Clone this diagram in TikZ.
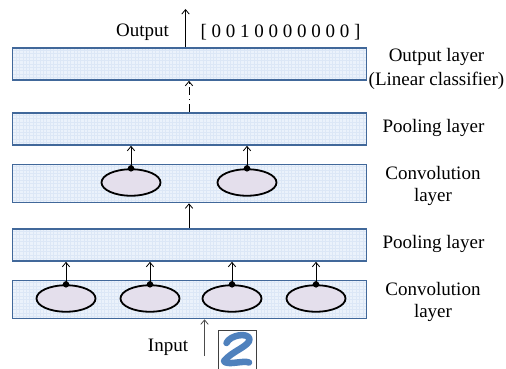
\documentclass[tikz,border=0pt]{standalone}
\usepackage{fontspec}
\setmainfont{Liberation Serif}
\usetikzlibrary{arrows.meta,shapes.geometric}
\definecolor{laybord}{HTML}{41689A}
\definecolor{layfill}{HTML}{EBF2FB}
\definecolor{laygrid}{HTML}{DCE7F6}
\definecolor{ellfill}{HTML}{E4DFEC}
\definecolor{digit}{HTML}{4F81BD}
\tikzset{
  layerbox/.style={draw=laybord,line width=1.8pt,fill=layfill,rectangle,inner sep=0pt,anchor=north west,minimum width=354pt,
    path picture={\draw[laygrid,line width=0.5pt,step=3.4pt] (path picture bounding box.south west) grid (path picture bounding box.north east);}},
  unit/.style={draw=black,line width=1.8pt,fill=ellfill,ellipse,inner sep=0pt,minimum width=59pt,minimum height=26.5pt},
  conn/.style={draw=black,line width=0.85pt,-{Straight Barb[length=4.5pt,width=7.5pt,line width=0.8pt]}},
  dotmark/.style={circle,fill=black,inner sep=0pt,minimum size=6.5pt},
  lab/.style={font=\fontsize{19pt}{24pt}\selectfont,align=center,inner sep=0pt},
}
\begin{document}
\begin{tikzpicture}[x=1pt,y=-1pt]
\useasboundingbox (0,0) rectangle (506,369);
\fill[white] (0,0) rectangle (506,369);
\node[layerbox,minimum height=32pt] (out) at (11.5,47) {};
\node[layerbox,minimum height=32pt] (pool2) at (11.5,112) {};
\node[layerbox,minimum height=38pt] (conv2) at (11.5,163.5) {};
\node[layerbox,minimum height=32pt] (pool1) at (11.5,228) {};
\node[layerbox,minimum height=38pt] (conv1) at (11.5,279.5) {};
\node[unit] (c2a) at (131,182.5) {};
\node[unit] (c2b) at (247,182.5) {};
\node[unit] (c1a) at (66,298.5) {};
\node[unit] (c1b) at (150,298.5) {};
\node[unit] (c1c) at (232,298.5) {};
\node[unit] (c1d) at (316,298.5) {};
\foreach \u in {c2a,c2b,c1a,c1b,c1c,c1d}{
  \node[dotmark] (d\u) at (\u.north) {};
}
\draw[conn] (c2a.north) -- (c2a.north |- pool2.south);
\draw[conn] (c2b.north) -- (c2b.north |- pool2.south);
\draw[conn] (c1a.north) -- (c1a.north |- pool1.south);
\draw[conn] (c1b.north) -- (c1b.north |- pool1.south);
\draw[conn] (c1c.north) -- (c1c.north |- pool1.south);
\draw[conn] (c1d.north) -- (c1d.north |- pool1.south);
\coordinate (p1top) at (189,228);
\draw[conn] (p1top) -- (p1top |- conv2.south);
\coordinate (p2top) at (189,112);
\draw[conn,dash pattern=on 8pt off 4pt on 1pt off 4pt on 8pt off 3pt on 20pt] (p2top) -- (p2top |- out.south);
\coordinate (outtop) at (185.5,47);
\coordinate (outend) at (185.5,9);
\draw[conn] (outtop) -- (outend);
\coordinate (inbot) at (204.5,356);
\draw[conn,draw=black!70] (inbot) -- (inbot |- conv1.south);
\node[lab] (toutput) at (142.5,32) {Output};
\node[lab] (tvec) at (280.5,32) {[ 0 0 1 0 0 0 0 0 0 0 ]};
\node[lab] at (436.5,57) {Output layer};
\node[lab] at (436.5,81) {(Linear classifier)};
\node[lab] at (433.5,128) {Pooling layer};
\node[lab] at (433,173) {Convolution};
\node[lab] at (433,197) {layer};
\node[lab] at (433.5,244) {Pooling layer};
\node[lab] at (433,289) {Convolution};
\node[lab] at (433,313) {layer};
\node[lab] (tin) at (168,347) {Input};
\node[draw=black!75,line width=0.7pt,fill=white,inner sep=0pt,minimum width=38.5pt,minimum height=39pt] (digitbox) at (237.3,350) {};
\draw[digit,line width=6.5pt,line cap=round,line join=round] (226.5,343) .. controls (230,335) and (248,332) .. (249.5,339) .. controls (250,346) and (232,351) .. (224,361) .. controls (226,366) and (244,360) .. (249,362.5);
\end{tikzpicture}
\end{document}
